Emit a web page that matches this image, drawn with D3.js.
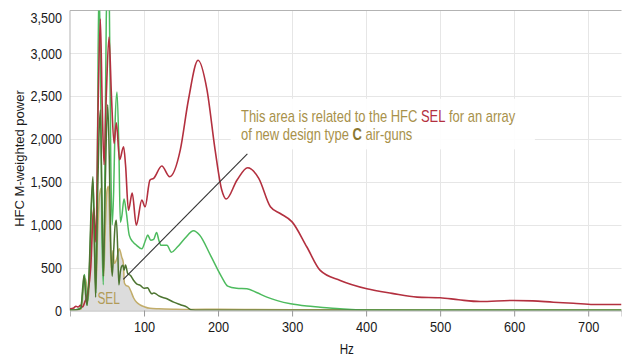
<!DOCTYPE html>
<html>
<head>
<meta charset="utf-8">
<script src="https://cdn.jsdelivr.net/npm/d3@7"></script>
<style>
  html, body { margin: 0; padding: 0; background: #fff; }
  svg { display: block; }
  text { font-family: "Liberation Sans", Arial, "Helvetica", sans-serif; }
</style>
</head>
<body>
<svg id="chart" width="622" height="356"></svg>
<script>
// Frequency (Hz) / HFC M-weighted power pairs for each curve
const redCurve = [
  [0,20],[5,30],[8,50],[11,40],[14,60],[17,40],[20,100],[24,200],[28,500],[32,1200],[35,800],
  [38,2400],[41,3400],[43.5,2400],[46,1700],[49,2500],[52.7,3190],[56,2500],[59.5,1950],
  [62.6,2190],[67,1760],[72.4,1910],[75,1700],[79,1170],[84,1370],[89.6,995],[97,1288],
  [101.5,1210],[108,1522],[113,1542],[124,1686],[134.6,1561],[149,1874],[160,2459],[173,2919],
  [185,2576],[196,1874],[205,1405],[211,1300],[225.7,1522],[240,1666],[255,1542],[270.7,1210],
  [284,1132],[300,1034],[320,741],[338,468],[365,351],[401,254],[435,200],[469,156],[500,149],
  [525,125],[554,105],[599,117],[625,112],[653,97],[680,85],[707,70],[745,70]
];
const lightGreenCurve = [
  [0,5],[8,10],[14,30],[17,200],[19.5,420],[21,300],[23,60],[26,400],[29,1200],[31,1500],[33,900],
  [35,200],[37,1800],[39,3800],[41,3000],[43,1000],[45,300],[47,1500],[49,3400],[51,3900],[53,3700],
  [55,1800],[57,1000],[59,1400],[61,2200],[63.5,2550],[66,1900],[68,1030],[70,1100],[73,1300],
  [76,1150],[80,880],[85,800],[90,760],[97,720],[102,820],[105,880],[109,820],[113,830],[117,910],
  [120,820],[123,760],[131,760],[137,680],[145,740],[155,840],[167,930],[175,880],[190,640],
  [205,390],[213,285],[225,260],[239,254],[252,210],[266,156],[280,115],[298,78],[320,52],[338,39],
  [360,22],[380,12],[400,6],[450,3],[745,2]
];
const darkGreenCurve = [
  [0,5],[10,10],[15,30],[17,250],[19,410],[21,200],[23,60],[26,500],[29,1300],[31,1560],[33,800],
  [34.6,155],[37,1200],[39,2000],[41,2340],[43,1400],[45,400],[47,1200],[49,2000],[51,2400],
  [53,1800],[55,800],[57,400],[59,700],[61,1000],[62.6,1054],[64.5,700],[66,300],[68,450],[70,520],
  [71.6,527],[73,470],[75,530],[78,430],[81.5,410],[86,350],[90,310],[95,293],[100,260],[105,265],
  [108,220],[110.7,195],[113,205],[115,200],[120,170],[131,137],[140,97],[150,65],[158,39],
  [163,10],[175,3],[745,2]
];
const selCurve = [
  [0,3],[10,5],[15,20],[18,250],[21,370],[23,250],[24.5,120],[27,500],[30,1000],[31.5,1150],
  [33.5,600],[35,250],[37,800],[40,1350],[42,1425],[44,900],[45.5,400],[47.5,900],[50,1400],
  [52,1450],[54,900],[56,450],[58,700],[60,550],[63,600],[66.5,720],[70,620],[72,560],[73.5,320],
  [76,290],[79,280],[82,230],[86,146],[90,95],[95,64],[100,45],[108,25],[120,20],[140,15],
  [160,12],[200,15],[250,12],[300,10],[400,8],[500,6],[745,5]
];

const xTicks = [100, 200, 300, 400, 500, 600, 700];
const yTicks = [0, 500, 1000, 1500, 2000, 2500, 3000, 3500];

// Callout: pointer from the SEL area up to the note, and the note's anchor
const pointerLine = [[72, 363], [239.6, 1827]];
const noteAnchor = [231, 2203];
const noteBox = [[217, 2470], [628, 1880]];

const svg = d3.select("#chart");
const margin = { left: 70, top: 10.5, right: 0.5, bottom: 45.5 };
const W = 622, H = 356;

const x = d3.scaleLinear().domain([0, 745]).range([margin.left, W - margin.right]);
const y = d3.scaleLinear().domain([0, 3500]).range([H - margin.bottom, margin.top]);

// Horizontally condense text (narrow typeface look)
function squeeze(sel, s) {
  sel.each(function () {
    const t = d3.select(this);
    const x0 = +t.attr("x") || 0;
    t.attr("x", x0 / s).attr("transform", `scale(${s},1)`);
  });
}

svg.append("defs").append("clipPath").attr("id", "plot-clip")
  .append("rect")
  .attr("x", x(0)).attr("y", y(3500))
  .attr("width", x(745) - x(0)).attr("height", y(0) - y(3500));

// Grid
const grid = svg.append("g").attr("stroke", "#e6e6e6").attr("stroke-width", 1);
grid.selectAll("line.v").data(xTicks).join("line")
  .attr("x1", d => Math.round(x(d)) + 0.5).attr("x2", d => Math.round(x(d)) + 0.5)
  .attr("y1", y(3500)).attr("y2", y(0));
grid.selectAll("line.h").data(yTicks.filter(d => d > 0 && d < 3500)).join("line")
  .attr("x1", x(0)).attr("x2", x(745))
  .attr("y1", d => Math.round(y(d)) + 0.5).attr("y2", d => Math.round(y(d)) + 0.5);

// Frame (top and left)
svg.append("path")
  .attr("d", `M${x(745)},${y(3500)}H${x(0)}V${y(0)}`)
  .attr("fill", "none").attr("stroke", "#b3b3b3").attr("stroke-width", 1);

const plot = svg.append("g").attr("clip-path", "url(#plot-clip)");

const line = d3.line().x(d => x(d[0])).y(d => y(d[1])).curve(d3.curveMonotoneX);
const area = d3.area().x(d => x(d[0])).y0(y(0)).y1(d => y(d[1])).curve(d3.curveMonotoneX);

plot.append("path").datum(selCurve).attr("d", area).attr("fill", "#dcdcdc");
plot.append("path").datum(selCurve).attr("d", line)
  .attr("fill", "none").attr("stroke", "#c2ad6a").attr("stroke-width", 1.5);
plot.append("path").datum(lightGreenCurve).attr("d", line)
  .attr("fill", "none").attr("stroke", "#4dbb5e").attr("stroke-width", 1.5);
plot.append("path").datum(redCurve).attr("d", line)
  .attr("fill", "none").attr("stroke", "#b3303f").attr("stroke-width", 1.6);
plot.append("path").datum(darkGreenCurve).attr("d", line)
  .attr("fill", "none").attr("stroke", "#4c7430").attr("stroke-width", 1.5);

// X axis
const xAxis = svg.append("g")
  .attr("transform", `translate(0,${y(0)})`)
  .call(d3.axisBottom(x).tickValues(xTicks).tickSize(6).tickPadding(5).tickFormat(d3.format("d")));
xAxis.select(".domain").attr("stroke", "#b3b3b3");
xAxis.selectAll(".tick line").attr("stroke", "#999");
xAxis.selectAll(".tick text").attr("font-size", 14.5).attr("fill", "#1a1a1a")
  .style("font-family", '"Liberation Sans", Arial, sans-serif');
squeeze(xAxis.selectAll(".tick text"), 0.88);

// Y axis
const yAxis = svg.append("g")
  .attr("transform", `translate(${x(0)},0)`)
  .call(d3.axisLeft(y).tickValues(yTicks).tickSize(0).tickPadding(8).tickFormat(d3.format(",")));
yAxis.select(".domain").remove();
yAxis.selectAll(".tick text").attr("font-size", 14).attr("fill", "#1a1a1a")
  .style("font-family", '"Liberation Sans", Arial, sans-serif')
  .attr("dy", d => d === 3500 ? "0.85em" : "0.34em");
squeeze(yAxis.selectAll(".tick text"), 0.9);

// Axis titles
const hz = svg.append("text")
  .attr("x", (x(0) + x(745)) / 2 + 1).attr("y", H - 2)
  .attr("text-anchor", "middle").attr("font-size", 14.5).attr("fill", "#1a1a1a")
  .text("Hz");
squeeze(hz, 0.8);
svg.append("text")
  .attr("transform", `translate(24,${(y(0) + y(3500)) / 2 - 2}) rotate(-90)`)
  .attr("text-anchor", "middle").attr("font-size", 13).attr("fill", "#1a1a1a")
  .text("HFC M-weighted power");

// SEL area label
const selLabel = svg.append("text")
  .attr("x", x(37)).attr("y", y(70))
  .attr("font-size", 16.5).attr("fill", "#b19b58")
  .text("SEL");
squeeze(selLabel, 0.72);

// Callout pointer
svg.append("line")
  .attr("x1", x(pointerLine[0][0])).attr("y1", y(pointerLine[0][1]))
  .attr("x2", x(pointerLine[1][0])).attr("y2", y(pointerLine[1][1]))
  .attr("stroke", "#333").attr("stroke-width", 1.1);

// Note box and text
svg.append("rect")
  .attr("x", x(noteBox[0][0])).attr("y", y(noteBox[0][1]))
  .attr("width", x(noteBox[1][0]) - x(noteBox[0][0]))
  .attr("height", y(noteBox[1][1]) - y(noteBox[0][1]))
  .attr("fill", "#fff").attr("opacity", 0.92);

const note = svg.append("text")
  .attr("x", x(noteAnchor[0])).attr("y", y(noteAnchor[1]))
  .attr("font-size", 16).attr("fill", "#a8914a");
note.append("tspan").text("This area is related to the HFC ");
note.append("tspan").attr("fill", "#b3303f").text("SEL");
note.append("tspan").text(" for an array");
const note2 = svg.append("text")
  .attr("x", x(noteAnchor[0])).attr("y", y(noteAnchor[1]) + 18.5)
  .attr("font-size", 16).attr("fill", "#a8914a");
note2.append("tspan").text("of new design type ");
note2.append("tspan").attr("font-weight", "bold").attr("fill", "#8a7630").text("C");
note2.append("tspan").text(" air-guns");
squeeze(note, 0.81);
squeeze(note2, 0.81);
</script>
</body>
</html>
